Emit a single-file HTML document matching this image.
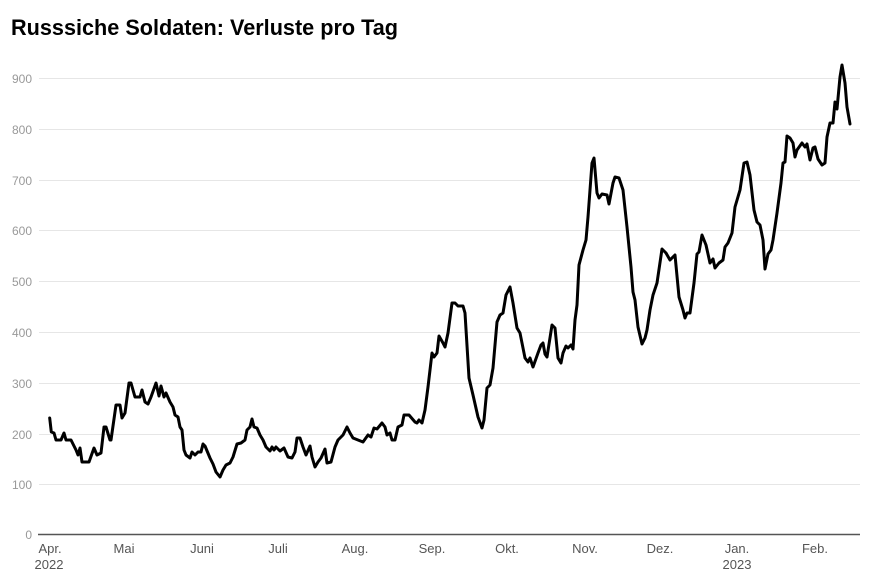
<!DOCTYPE html>
<html><head><meta charset="utf-8"><style>
html,body{margin:0;padding:0;background:#fff;}
svg{display:block;font-family:"Liberation Sans",sans-serif;}
</style></head><body>
<svg width="873" height="586" viewBox="0 0 873 586">
<text x="11" y="35" font-size="22" font-weight="bold" fill="#000" textLength="387" lengthAdjust="spacingAndGlyphs">Russsiche Soldaten: Verluste pro Tag</text>
<g stroke="#e6e6e6" stroke-width="1">
<line x1="39" x2="860" y1="78.5" y2="78.5"/>
<line x1="39" x2="860" y1="129.5" y2="129.5"/>
<line x1="39" x2="860" y1="180.5" y2="180.5"/>
<line x1="39" x2="860" y1="230.5" y2="230.5"/>
<line x1="39" x2="860" y1="281.5" y2="281.5"/>
<line x1="39" x2="860" y1="332.5" y2="332.5"/>
<line x1="39" x2="860" y1="383.5" y2="383.5"/>
<line x1="39" x2="860" y1="434.5" y2="434.5"/>
<line x1="39" x2="860" y1="484.5" y2="484.5"/>
</g>
<line x1="38" x2="860" y1="534.5" y2="534.5" stroke="#555" stroke-width="1.5"/>
<g font-size="12" fill="#999" text-anchor="end">
<text x="32" y="83">900</text>
<text x="32" y="134">800</text>
<text x="32" y="185">700</text>
<text x="32" y="235">600</text>
<text x="32" y="286">500</text>
<text x="32" y="337">400</text>
<text x="32" y="388">300</text>
<text x="32" y="439">200</text>
<text x="32" y="489">100</text>
<text x="32" y="539">0</text>
</g>
<g font-size="13" fill="#555" text-anchor="middle">
<text x="50" y="553">Apr.</text>
<text x="49" y="569">2022</text>
<text x="124" y="553">Mai</text>
<text x="202" y="553">Juni</text>
<text x="278" y="553">Juli</text>
<text x="355" y="553">Aug.</text>
<text x="432" y="553">Sep.</text>
<text x="507" y="553">Okt.</text>
<text x="585" y="553">Nov.</text>
<text x="660" y="553">Dez.</text>
<text x="737" y="553">Jan.</text>
<text x="737" y="569">2023</text>
<text x="815" y="553">Feb.</text>
</g>
<polyline fill="none" stroke="#000" stroke-width="3" stroke-linejoin="round" stroke-linecap="round" points="
49.7,418 51.3,432 54,433 56,440 61,440 64,433 66,440 71,440 76,450 78,455 80,448 82,462 89,462 94,448 97,455 101,453 104,427 106,427 110,440 111,440 116,405 120,405 122,418 125,413 129,383 131,383 135,397 140,397 142,390 145,402 148,404 151,397 156,383 159,396 161,386 164,397 166,393 170,402 173,407 175,415 178,417 180,427 182,430 184,450 186,455 190,458 192,452 195,455 198,452 201,452 203,444 205,446 210,458 213,464 216,472 220,477 223,470 226,465 230,463 233,457 237,444 241,443 245,440 247,430 250,427 252,419 254,427 257,428 260,435 263,440 266,447 270,451 272,447 274,450 276,447 280,451 284,448 288,457 292,458 295,452 297,438 300,438 303,447 306,455 310,446 312,457 315,467 318,462 321,458 325,449 327,463 331,462 335,447 338,440
343,435 347,427 350,433 353,438 358,440 363,442 368,435 371,437 374,428 377,429 382,423 385,427 387,435 390,433 392,440 395,440 398,427 402,425 404,415 409,415 415,422 417,423 419,420 422,423 425,410 428,387 432,353 434,357 437,353 439,336 443,343 445,347 448,333 452,303 455,303 458,306 463,306 465,313 469,378 473,395 478,417 482,428 484,420 487,388 490,385 493,368 497,322 500,315 503,313 506,295 510,287 513,303 517,328 520,333 525,358 528,362 530,358 533,367 538,353 541,345 543,343 545,354 547,357 552,325 555,328 558,358 561,363 563,353 566,346 568,348 571,345 573,349 575,320 577,305 579,265 583,250 586,240 588,217 592,163 594,158 597,193 599,198 602,194 607,195 609,204 613,183 615,177 619,178 623,190 627,227 631,267 633,292 635,300 638,327 642,344 645,338 647,330 650,310 653,295 657,283 662,249 666,253 670,260 675,255 679,297 683,310 685,318 687,313 690,313 694,283 697,254 699,252 702,235 706,245 710,263 713,259 715,268 719,263 723,260 725,247 728,243 732,233 735,207 740,190 744,163 747,162 750,175 754,210 757,222 760,225 763,240 765,269 768,254 771,250 773,240 777,213 781,183 783,163 785,162 787,136 790,138 793,143 795,157 797,150 802,143 805,147 807,144 810,160 813,148 815,147 818,159 822,165 825,163 827,137 830,123 833,123 835,102 837,109 840,77 842,65 845,83 847,107 850,124"/>
</svg>
</body></html>
